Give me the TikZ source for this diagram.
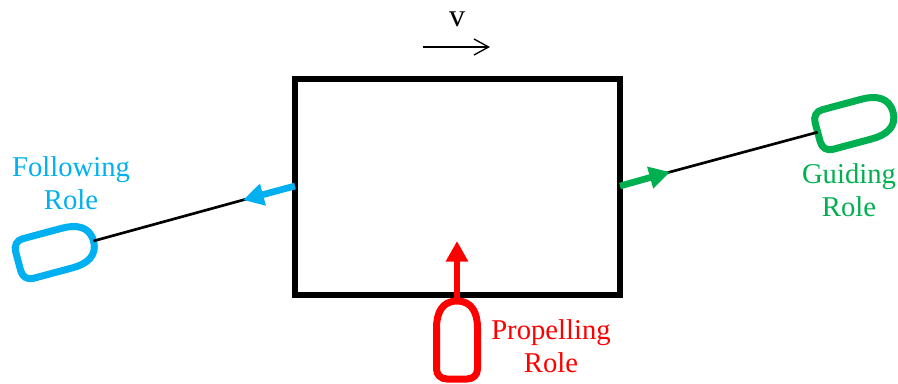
\documentclass[tikz,border=0pt]{standalone}
\usepackage{fontspec}
\setmainfont{Liberation Serif}
\usetikzlibrary{arrows.meta}
\definecolor{rolered}{HTML}{FF0000}
\definecolor{roleblue}{HTML}{00B0F0}
\definecolor{rolegreen}{HTML}{00B050}
\tikzset{
    rolelabel/.style={font=\fontsize{21.5}{25}\selectfont,align=center,inner sep=0pt},
    rope/.style={line width=2pt,shorten >=-5pt},
    push/.style={line width=5pt,-{Triangle[length=15.5pt,width=16pt]}},
    boat/.pic={
        \draw[line width=5.25pt] (0,0) .. controls (15,0) and (20.5,12) .. (20.5,27)
            -- (20.5,68) .. controls (20.5,74) and (16,78) .. (10,78)
            -- (-10,78) .. controls (-16,78) and (-20.5,74) .. (-20.5,68)
            -- (-20.5,27) .. controls (-20.5,12) and (-15,0) .. (0,0) -- cycle;
        \coordinate (-bow) at (0,0);
        \coordinate (-stern) at (0,78);
    }
}
\begin{document}
\begin{tikzpicture}[x=0.75pt,y=-0.75pt]
    \useasboundingbox (0,0) rectangle (898,384);

    \node[draw,line width=4.5pt,minimum width=244.1pt,minimum height=162pt,inner sep=0pt] (box) at (457.25,187) {};

    % speed
    \node[font=\fontsize{24}{25}\selectfont,inner sep=0pt] (speed) at (457,19) {v};
    \coordinate (speedL) at (423,47);
    \coordinate (speedR) at (490,47);
    \draw[line width=1pt,-{Straight Barb[length=11pt,width=12pt]}] (speedL) -- (speedR);

    % boats
    \pic[color=roleblue,rotate=-75] (follow) at (93.5,241) {boat};
    \pic[color=rolegreen,rotate=-75] (guide) at (893,112) {boat};
    \pic[color=rolered] (propel) at (457,301) {boat};

    % ropes
    \coordinate (followEnd) at (295,186);
    \coordinate (followTip) at (243,200);
    \coordinate (guideEnd) at (620,186);
    \coordinate (guideTip) at (670,172);
    \coordinate (propelTip) at (457,241);
    \draw[rope] (follow-bow) -- (followTip);
    \draw[rope] (guide-stern) -- (guideTip);

    \draw[push,color=roleblue] (followEnd) -- (followTip);
    \draw[push,color=rolegreen] (guideEnd) -- (guideTip);
    \draw[push,color=rolered] (propel-bow) -- (propelTip);

    % labels
    \node[rolelabel,text=roleblue] (followLabel) at (71,183) {Following\\Role};
    \node[rolelabel,text=rolegreen] (guideLabel) at (849,190) {Guiding\\Role};
    \node[rolelabel,text=rolered] (propelLabel) at (551,346) {Propelling\\Role};
\end{tikzpicture}
\end{document}
